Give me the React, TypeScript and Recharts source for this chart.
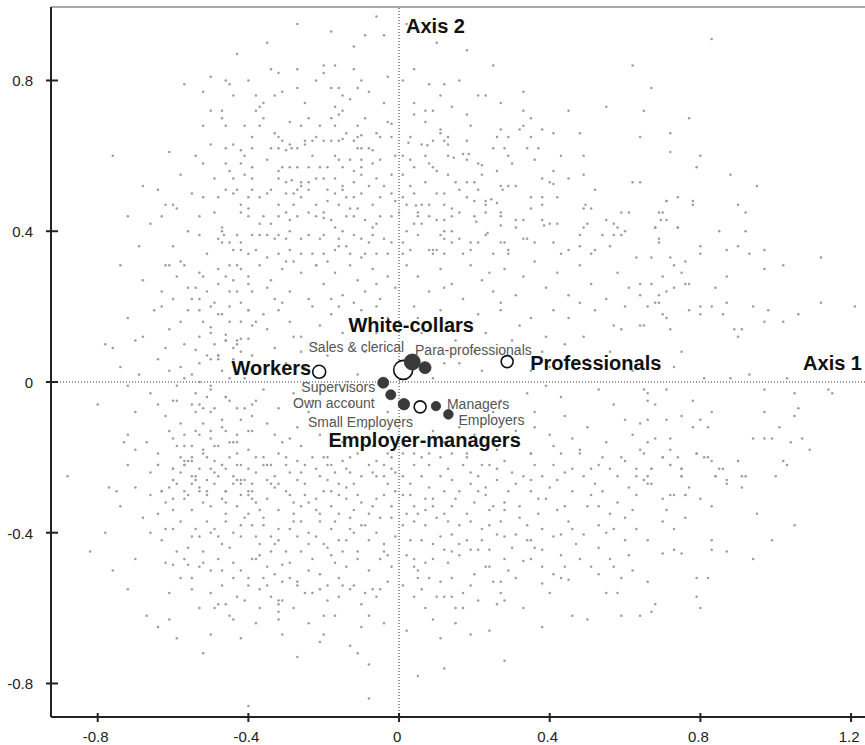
import React from "react";
import { ScatterChart, Scatter, XAxis, YAxis, ReferenceLine } from "recharts";

// individuals cloud
const cloudUpperLeft = [
  [-0.34,0.83],[-0.32,0.82],[-0.27,0.83],[-0.2,0.84],[-0.17,0.84],[-0.2,0.82],[-0.12,0.83],[-0.5,0.81],[-0.57,0.79],[-0.46,0.8],
  [-0.45,0.79],[-0.4,0.8],[-0.52,0.77],[-0.44,0.76],[-0.38,0.76],[-0.31,0.77],[-0.36,0.74],[-0.37,0.73],[-0.33,0.76],[-0.22,0.8],
  [-0.18,0.78],[-0.16,0.78],[-0.1,0.8],[-0.11,0.78],[-0.15,0.76],[-0.25,0.74],[-0.17,0.73],[-0.03,0.81],[-0.04,0.74],[-0.27,0.95],
  [-0.18,0.93],[-0.35,0.9],[-0.43,0.87],[-0.12,0.89],[-0.06,0.97],[-0.09,0.92],[-0.04,0.92],
  [-0.47,0.72],[-0.47,0.7],[-0.52,0.68],[-0.46,0.68],[-0.36,0.7],[-0.37,0.68],[-0.29,0.69],[-0.26,0.68],[-0.21,0.68],[-0.17,0.68],
  [-0.18,0.7],[-0.16,0.71],[-0.15,0.72],[-0.11,0.68],[-0.09,0.7],[-0.03,0.69],[-0.02,0.685],
  [-0.39,0.65],[-0.39,0.62],[-0.44,0.63],[-0.46,0.62],[-0.42,0.615],[-0.33,0.66],[-0.32,0.65],[-0.31,0.64],[-0.29,0.63],[-0.34,0.62],
  [-0.32,0.62],[-0.3,0.615],[-0.285,0.62],[-0.27,0.62],[-0.25,0.64],[-0.25,0.63],[-0.23,0.64],[-0.22,0.65],[-0.2,0.64],[-0.18,0.64],
  [-0.16,0.64],[-0.15,0.645],[-0.14,0.66],[-0.12,0.64],[-0.11,0.65],[-0.1,0.655],[-0.11,0.62],[-0.1,0.62],[-0.08,0.62],[-0.07,0.615],
  [-0.05,0.65],[-0.02,0.65],[-0.5,0.63],[-0.54,0.6],[-0.61,0.61],
  [-0.52,0.58],[-0.46,0.58],[-0.42,0.58],[-0.39,0.57],[-0.35,0.59],[-0.31,0.57],[-0.32,0.56],[-0.29,0.57],[-0.27,0.57],[-0.24,0.57],
  [-0.21,0.57],[-0.19,0.57],[-0.17,0.6],[-0.16,0.59],[-0.15,0.57],[-0.13,0.59],[-0.12,0.56],[-0.1,0.57],[-0.1,0.59],[-0.07,0.58],
  [-0.05,0.59],[-0.02,0.55],[-0.49,0.54],[-0.45,0.56],[-0.44,0.54],[-0.41,0.55],[-0.39,0.54],[-0.32,0.54],[-0.3,0.53],[-0.285,0.535],
  [-0.26,0.53],[-0.24,0.53],[-0.22,0.54],[-0.2,0.54],[-0.17,0.54],[-0.15,0.52],[-0.12,0.53],[-0.1,0.55],[-0.06,0.54],[-0.04,0.52],
  [-0.64,0.51],[-0.62,0.47],[-0.6,0.47],[-0.59,0.46],[-0.46,0.51],[-0.44,0.5],[-0.43,0.51],[-0.39,0.51],[-0.42,0.47],[-0.4,0.46],
  [-0.4,0.49],[-0.37,0.49],[-0.35,0.5],[-0.34,0.51],[-0.32,0.47],[-0.3,0.5],[-0.28,0.5],[-0.27,0.51],[-0.26,0.49],[-0.26,0.52],
  [-0.24,0.51],[-0.22,0.47],[-0.19,0.51],[-0.17,0.5],[-0.15,0.51],[-0.14,0.49],[-0.12,0.49],[-0.1,0.5],[-0.07,0.47],[-0.05,0.49],
  [-0.01,0.48],[-0.02,0.5],[-0.49,0.45],
  [-0.42,0.45],[-0.4,0.44],[-0.37,0.42],[-0.34,0.42],[-0.32,0.44],[-0.3,0.45],[-0.29,0.43],[-0.27,0.44],[-0.24,0.45],[-0.22,0.44],
  [-0.2,0.45],[-0.2,0.435],[-0.18,0.43],[-0.17,0.41],[-0.16,0.47],[-0.14,0.44],[-0.12,0.44],[-0.11,0.46],[-0.09,0.43],[-0.07,0.41],
  [-0.06,0.42],[-0.02,0.44],[0,0.45],[-0.53,0.39],[-0.47,0.4],[-0.47,0.41],[-0.465,0.39],
  [-0.48,0.38],[-0.47,0.37],[-0.45,0.37],[-0.43,0.39],[-0.42,0.37],[-0.39,0.39],[-0.37,0.39],[-0.35,0.39],[-0.33,0.38],[-0.32,0.39],
  [-0.3,0.38],[-0.29,0.4],[-0.26,0.38],[-0.24,0.39],[-0.21,0.38],[-0.2,0.39],[-0.16,0.38],[-0.15,0.4],[-0.12,0.39],[-0.1,0.38],
  [-0.08,0.37],[-0.07,0.39],[-0.04,0.38],[-0.02,0.37],[-0.44,0.35],[-0.42,0.35],[-0.4,0.34],[-0.38,0.35],[-0.35,0.33],[-0.32,0.34],
  [-0.29,0.35],[-0.26,0.34],[-0.23,0.34],[-0.2,0.34],[-0.17,0.35],[-0.16,0.36],[-0.13,0.34],[-0.1,0.33],[-0.09,0.34],[-0.06,0.34],
  [-0.03,0.34],[-0.76,0.6],[-0.68,0.52],[-0.72,0.44],[-0.66,0.42],[-0.69,0.36],
  [-0.58,0.55],[-0.55,0.5],[-0.53,0.44],[-0.56,0.4],[-0.6,0.36],[-0.51,0.34],[-0.48,0.49],[-0.41,0.6],[-0.36,0.44],[-0.28,0.47],
  [-0.23,0.6],[-0.19,0.48],[-0.13,0.46],[-0.08,0.52],[-0.05,0.44],[-0.14,0.36],[-0.22,0.31],[-0.3,0.32],[-0.45,0.31],[-0.5,0.72],
  [-0.41,0.68],[-0.27,0.78],[-0.08,0.77],[-0.06,0.66],[-0.01,0.6],[-0.63,0.44],[-0.58,0.32],[-0.52,0.49],[-0.38,0.72],[-0.24,0.7],
  [-0.13,0.75],
];

const cloudUpperRight = [
  [0.04,0.83],[0.25,0.84],[0.62,0.84],[0.01,0.8],[0.08,0.79],[0.12,0.79],[0.16,0.8],[0.11,0.76],[0.21,0.76],[0.23,0.76],
  [0.33,0.77],[0.04,0.74],[0.27,0.74],[0.14,0.73],[0.04,0.71],[0.07,0.72],[0.09,0.72],[0.18,0.71],[0.07,0.69],[0.33,0.72],
  [0.35,0.7],[0.45,0.72],[0.55,0.73],[0.65,0.72],[0.33,0.68],[0.32,0.67],[0.27,0.67],[0.11,0.67],[0.11,0.66],[0.13,0.65],
  [0.03,0.65],[0.26,0.65],[0.29,0.65],[0.35,0.65],[0.38,0.67],[0.41,0.66],[0.48,0.66],[0.64,0.65],[0.09,0.64],[0.12,0.64],
  [0.18,0.64],[0.025,0.635],[0.06,0.63],[0.075,0.628],[0.13,0.63],[0.28,0.62],[0.34,0.62],[0.37,0.62],[0.72,0.61],[0.01,0.6],
  [0.07,0.6],[0.13,0.6],[0.145,0.595],[0.17,0.605],[0.18,0.59],[0.185,0.605],[0.21,0.58],[0.22,0.575],[0.29,0.6],[0.3,0.58],
  [0.36,0.59],[0.43,0.6],[0.49,0.6],[0.03,0.59],[0.04,0.57],[0.09,0.57],[0.1,0.56],[0.26,0.56],[0.41,0.56],[0.49,0.55],
  [0.79,0.57],[0.01,0.55],[0.07,0.53],[0.15,0.53],[0.18,0.53],[0.2,0.53],[0.21,0.51],[0.27,0.52],[0.275,0.51],[0.29,0.52],
  [0.31,0.52],[0.38,0.54],[0.4,0.53],[0.41,0.525],[0.45,0.54],[0.52,0.51],[0.62,0.53],[0.64,0.53],[0.16,0.51],[0.01,0.49],
  [0.04,0.5],[0.1,0.5],[0.12,0.5],[0.18,0.49],[0.2,0.48],[0.23,0.48],[0.245,0.485],[0.26,0.475],[0.35,0.49],[0.38,0.49],
  [0.42,0.49],[0.74,0.49],[0.78,0.48],[0.02,0.47],[0.045,0.468],[0.06,0.47],[0.08,0.47],[0.12,0.47],[0.14,0.46],[0.14,0.44],
  [0.23,0.47],[0.23,0.45],[0.27,0.45],[0.35,0.46],[0.38,0.47],[0.49,0.46],[0.495,0.47],[0.51,0.46],[0.59,0.45],[0.61,0.45],
  [0.7,0.45],[0.71,0.48],[0.05,0.44],[0.08,0.44],[0.12,0.43],[0.2,0.44],[0.205,0.425],[0.27,0.44],[0.31,0.43],[0.33,0.43],
  [0.38,0.43],[0.385,0.415],[0.4,0.42],[0.42,0.42],[0.55,0.43],[0.695,0.43],[0.04,0.42],[0.06,0.42],[0.27,0.415],[0.31,0.41],
  [0.49,0.41],[0.5,0.42],[0.57,0.42],[0.58,0.41],[0.6,0.4],[0.68,0.41],[0.74,0.41],[0.02,0.4],[0.05,0.39],[0.11,0.39],
  [0.12,0.4],[0.14,0.4],[0.12,0.38],[0.23,0.39],[0.235,0.395],[0.33,0.38],[0.34,0.38],[0.36,0.37],[0.48,0.39],[0.54,0.39],
  [0.57,0.39],[0.59,0.39],[0.69,0.37],[0.01,0.37],[0.09,0.35],[0.1,0.35],[0.03,0.35],[0.14,0.37],[0.16,0.38],[0.19,0.37],
  [0.21,0.37],[0.27,0.37],[0.28,0.37],[0.29,0.35],[0.41,0.37],[0.45,0.35],[0.48,0.36],[0.52,0.35],[0.56,0.36],[0.01,0.34],
  [0.08,0.35],[0.09,0.34],[0.12,0.34],[0.17,0.34],[0.19,0.35],[0.25,0.34],[0.29,0.34],[0.43,0.34],[0.51,0.34],[0.63,0.33],
  [0.02,0.95],[0.1,0.9],[0.18,0.88],[0.72,0.66],[0.8,0.6],[0.88,0.55],[0.77,0.7],[0.67,0.78],[0.95,0.52],[0.83,0.91],
  [0.03,0.52],[0.05,0.45],[0.1,0.43],[0.16,0.45],[0.13,0.55],[0.22,0.55],[0.25,0.62],[0.19,0.68],[0.08,0.58],
];

const cloudMiddleLeft = [
  [-0.74,0.31],[-0.62,0.31],[-0.61,0.31],[-0.57,0.31],[-0.53,0.29],[-0.52,0.28],[-0.48,0.3],[-0.46,0.28],[-0.43,0.31],[-0.42,0.3],
  [-0.4,0.28],[-0.44,0.27],[-0.4,0.26],[-0.56,0.25],[-0.55,0.22],[-0.53,0.22],[-0.51,0.24],[-0.45,0.24],[-0.43,0.24],[-0.42,0.21],
  [-0.5,0.2],[-0.48,0.18],[-0.4,0.19],[-0.63,0.2],[-0.58,0.16],[-0.53,0.19],[-0.45,0.16],[-0.42,0.16],[-0.5,0.145],[-0.39,0.15],
  [-0.68,0.12],[-0.7,0.11],[-0.76,0.09],[-0.53,0.12],[-0.46,0.125],[-0.46,0.11],[-0.43,0.11],[-0.42,0.115],[-0.4,0.115],[-0.43,0.1],
  [-0.54,0.085],[-0.51,0.07],[-0.5,0.06],[-0.48,0.07],[-0.48,0.06],[-0.44,0.09],[-0.61,0.03],[-0.58,0.04],[-0.55,0.02],[-0.72,-0.01],
  [-0.53,0],[-0.59,-0.01],[-0.45,0.01],[-0.64,-0.06],[-0.6,-0.05],[-0.59,-0.05],[-0.54,-0.03],[-0.53,-0.06],[-0.52,-0.07],[-0.51,-0.04],
  [-0.54,-0.08],[-0.5,-0.08],[-0.49,-0.07],[-0.46,-0.04],[-0.45,-0.05],[-0.43,-0.07],[-0.41,-0.07],[-0.39,-0.06],[-0.42,-0.1],[-0.47,-0.12],
  [-0.52,-0.11],[-0.61,-0.13],[-0.72,-0.14],[-0.73,-0.16],[-0.7,-0.18],[-0.57,-0.14],[-0.54,-0.13],[-0.53,-0.14],[-0.5,-0.13],[-0.46,-0.13],
  [-0.43,-0.14],[-0.4,-0.13],[-0.6,-0.15],[-0.59,-0.17],[-0.57,-0.17],[-0.55,-0.17],[-0.5,-0.15],[-0.48,-0.17],[-0.45,-0.16],[-0.43,-0.16],
  [-0.4,-0.18],[-0.64,-0.19],[-0.64,-0.22],[-0.56,-0.21],[-0.55,-0.21],[-0.52,-0.19],[-0.5,-0.23],[-0.47,-0.22],[-0.45,-0.2],[-0.42,-0.22],
  [-0.6,-0.23],[-0.57,-0.22],[-0.88,-0.25],[-0.77,-0.28],[-0.75,-0.29],[-0.63,-0.29],[-0.6,-0.26],[-0.59,-0.27],[-0.57,-0.29],[-0.55,-0.25],
  [-0.55,-0.27],[-0.53,-0.29],[-0.51,-0.3],[-0.49,-0.27],[-0.46,-0.29],[-0.43,-0.26],[-0.42,-0.27],[-0.4,-0.29],[-0.39,-0.31],
  [-0.37,0.31],[-0.34,0.27],[-0.31,0.3],[-0.29,0.24],[-0.26,0.29],[-0.24,0.22],[-0.22,0.31],[-0.2,0.26],[-0.17,0.29],[-0.15,0.23],
  [-0.13,0.31],[-0.11,0.27],[-0.09,0.24],[-0.07,0.3],[-0.05,0.22],[-0.03,0.28],[-0.01,0.25],[-0.33,0.22],[-0.28,0.32],[-0.18,0.22],
  [-0.35,0.25],[-0.12,0.21],[-0.19,0.32],[-0.06,0.26],
  [-0.49,0.21],[-0.47,0.18],[-0.5,0.13],[-0.46,0.11],[-0.4,0.19],[-0.38,0.16],[-0.35,0.14],[-0.32,0.19],[-0.29,0.16],[-0.26,0.12],
  [-0.23,0.2],[-0.21,0.15],[-0.18,0.18],[-0.15,0.13],[-0.1,0.19],[-0.06,0.13],[-0.03,0.17],[-0.48,0.07],[-0.39,0.07],[-0.26,0.08],
  [-0.11,0.02],[-0.5,-0.01],[-0.46,-0.04],[-0.38,-0.05],[-0.32,-0.07],[-0.03,-0.08],[-0.47,-0.1],[-0.39,-0.13],[-0.33,-0.14],[-0.29,-0.15],
  [-0.26,-0.17],[-0.49,-0.17],[-0.43,-0.19],[-0.36,-0.2],[-0.19,-0.2],[-0.11,-0.19],[-0.03,-0.19],
  [-0.68,0.27],[-0.63,0.24],[-0.59,0.28],[-0.56,0.19],[-0.61,0.14],[-0.57,0.1],[-0.64,0.06],[-0.69,0.02],[-0.66,-0.03],[-0.62,-0.09],
  [-0.58,-0.11],[-0.55,-0.06],[-0.5,-0.02],[-0.47,0.03],[-0.44,0.06],[-0.41,0.01],[-0.37,0.04],[-0.36,-0.02],[-0.33,0.09],[-0.3,0.05],
  [-0.28,0.12],[-0.31,0.21],[-0.36,0.18],[-0.39,0.24],[-0.45,0.2],[-0.48,0.26],[-0.52,0.16],[-0.49,0.1],[-0.42,0.08],[-0.39,-0.09],
  [-0.35,-0.11],[-0.31,-0.16],[-0.27,-0.12],[-0.24,-0.08],[-0.21,-0.14],[-0.18,-0.1],[-0.15,-0.16],[-0.13,-0.06],[-0.09,-0.12],[-0.07,-0.17],
  [-0.44,-0.16],[-0.52,-0.18],[-0.58,-0.2],[-0.67,-0.16],[-0.7,-0.08],[-0.74,0.04],[-0.72,0.17],[-0.65,0.19],[-0.6,0.22],[-0.54,0.25],
  [-0.25,0.04],[-0.22,0.1],[-0.19,0.07],[-0.16,0.2],[-0.13,0.16],[-0.28,-0.03],[-0.23,-0.05],[-0.15,-0.02],[-0.09,0.08],[-0.06,0.2],
  [-0.8,-0.06],[-0.78,0.1],[-0.57,0.01],[-0.53,0.05],[-0.62,0.09],
];

const cloudMiddleRight = [
  [0.04,0.2],[0.06,0.13],[0.11,0.19],[0.15,0.11],[0.21,0.18],[0.23,0.13],[0.27,0.19],[0.3,0.11],[0.35,0.17],[0.39,0.12],
  [0.41,0.19],[0.09,0.01],[0.16,0.05],[0.22,0.03],[0.35,0.03],[0.4,0.04],[0.34,-0.03],[0.39,-0.01],[0.27,-0.05],[0.36,-0.08],
  [0.09,-0.13],[0.16,-0.12],[0.36,-0.12],[0.4,-0.14],[0.08,-0.19],[0.18,-0.2],[0.26,-0.18],[0.35,-0.19],[0.41,-0.17],
  [0.02,0.31],[0.05,0.28],[0.08,0.24],[0.11,0.3],[0.14,0.26],[0.17,0.22],[0.19,0.31],[0.22,0.27],[0.25,0.24],[0.28,0.3],
  [0.31,0.23],[0.33,0.28],[0.36,0.32],[0.39,0.25],[0.42,0.29],[0.45,0.23],[0.48,0.31],[0.51,0.26],[0.55,0.22],[0.58,0.29],
  [0.61,0.25],[0.45,0.17],[0.49,0.12],[0.52,0.19],[0.56,0.08],[0.59,0.14],[0.62,0.03],[0.47,0.05],[0.53,-0.02],[0.57,-0.06],
  [0.44,-0.09],[0.5,-0.12],[0.6,-0.1],[0.46,-0.15],[0.55,-0.16],[0.62,-0.14],[0.48,0.21],[0.6,0.2],
  [0.12,0.25],[0.27,0.21],[0.05,0.17],[0.18,0.15],[0.32,0.15],[0.44,0.1],[0.3,0.06],[0.2,0.08],[0.12,0.05],[0.25,-0.08],
  [0.2,-0.14],[0.31,-0.13],[0.43,-0.04],[0.5,0.06],[0.57,0.15],[0.12,-0.16],[0.3,-0.17],[0.48,-0.18],[0.38,0.08],[0.24,0.29],
  [0.71,0.48],[0.78,0.47],[0.69,0.45],[0.9,0.47],[0.92,0.45],[0.68,0.41],[0.71,0.43],[0.74,0.41],[0.85,0.4],[0.92,0.4],
  [0.69,0.38],[0.8,0.34],[0.8,0.36],[0.87,0.35],[0.9,0.36],[0.93,0.34],[0.97,0.35],[0.67,0.33],[0.72,0.33],[0.73,0.31],
  [0.76,0.32],[0.97,0.3],[1.02,0.31],[1.12,0.33],[0.75,0.29],[0.7,0.28],[0.87,0.28],[0.64,0.26],[0.67,0.26],[0.73,0.25],
  [0.76,0.26],[0.77,0.26],[0.84,0.25],[0.71,0.24],[0.64,0.23],[0.69,0.23],[0.66,0.2],[0.68,0.21],[0.69,0.21],[0.7,0.18],
  [0.77,0.19],[0.8,0.2],[0.8,0.18],[0.83,0.2],[0.86,0.18],[0.87,0.21],[0.94,0.2],[0.98,0.19],[0.97,0.16],[1.02,0.16],
  [1.06,0.18],[1.12,0.21],[1.21,0.2],[0.65,0.15],[0.64,0.15],[0.71,0.17],[0.72,0.14],[0.89,0.14],[0.91,0.14],[0.9,0.12],
  [0.75,0.08],[0.73,0.04],[0.93,0.02],[0.81,0.01],[0.88,0.01],[1.03,0.01],[0.97,-0.02],[1.05,-0.03],[1.14,-0.02],[1.15,-0.03],
  [0.65,-0.02],[0.66,-0.03],[0.71,-0.02],[0.66,-0.05],[0.68,-0.06],[0.78,-0.05],[1.06,-0.07],[0.75,-0.09],[0.8,-0.1],[0.83,-0.08],
  [0.97,-0.08],[1.05,-0.09],[0.64,-0.11],[0.66,-0.1],[0.71,-0.1],[0.78,-0.12],[0.82,-0.12],[1.01,-0.12],[0.68,-0.15],[0.66,-0.16],
  [0.72,-0.15],[0.72,-0.18],[0.64,-0.18],[0.79,-0.19],[0.81,-0.2],[0.83,-0.21],[0.94,-0.15],[0.97,-0.15],[0.99,-0.15],[1.04,-0.16],
  [1.07,-0.15],[1.09,-0.18],[0.7,-0.2],[0.74,-0.2],[0.72,-0.22],[0.75,-0.23],[0.67,-0.23],[0.66,-0.25],[0.67,-0.27],[0.66,-0.27],
  [0.75,-0.25],[0.77,-0.28],[0.84,-0.25],[0.86,-0.23],[0.87,-0.27],[0.9,-0.21],[0.92,-0.25],[0.91,-0.28],[1,-0.25],[1.02,-0.21],
  [1.03,-0.22],[0.72,-0.3],[0.76,-0.3],
];

const cloudLowerLeft = [
  [-0.64,-0.22],[-0.57,-0.21],[-0.57,-0.22],[-0.55,-0.2],[-0.51,-0.2],[-0.49,-0.24],[-0.47,-0.22],[-0.43,-0.22],[-0.4,-0.23],[-0.38,-0.2],
  [-0.36,-0.22],[-0.35,-0.22],[-0.34,-0.22],[-0.32,-0.19],[-0.3,-0.2],[-0.27,-0.21],[-0.25,-0.22],[-0.23,-0.2],[-0.2,-0.2],[-0.18,-0.22],
  [-0.15,-0.21],[-0.13,-0.2],[-0.08,-0.22],[-0.04,-0.22],[-0.02,-0.2],[-0.6,-0.23],[-0.6,-0.26],[-0.54,-0.25],[-0.54,-0.26],[-0.51,-0.26],
  [-0.48,-0.25],[-0.46,-0.23],[-0.44,-0.27],[-0.42,-0.26],[-0.41,-0.26],[-0.39,-0.27],[-0.35,-0.26],[-0.34,-0.27],[-0.32,-0.27],[-0.29,-0.24],
  [-0.27,-0.26],[-0.25,-0.27],[-0.21,-0.25],[-0.19,-0.26],[-0.17,-0.24],[-0.16,-0.27],[-0.13,-0.24],[-0.12,-0.27],[-0.07,-0.24],[-0.06,-0.25],
  [-0.04,-0.25],[-0.02,-0.23],[-0.03,-0.27],
  [-0.63,-0.29],[-0.57,-0.31],[-0.62,-0.32],[-0.6,-0.31],[-0.53,-0.28],[-0.51,-0.29],[-0.52,-0.32],[-0.46,-0.29],[-0.46,-0.32],[-0.42,-0.3],
  [-0.4,-0.3],[-0.38,-0.32],[-0.37,-0.34],[-0.32,-0.34],[-0.3,-0.29],[-0.29,-0.3],[-0.28,-0.32],[-0.26,-0.33],[-0.24,-0.32],[-0.22,-0.31],
  [-0.2,-0.29],[-0.18,-0.29],[-0.16,-0.3],[-0.14,-0.31],[-0.12,-0.34],[-0.13,-0.36],[-0.1,-0.32],[-0.07,-0.33],[-0.04,-0.3],[-0.01,-0.29],
  [-0.55,-0.34],[-0.6,-0.34],[-0.46,-0.35],[-0.4,-0.35],[-0.36,-0.36],[-0.21,-0.35],[-0.16,-0.35],[-0.05,-0.36],
  [-0.63,-0.42],[-0.62,-0.39],[-0.6,-0.39],[-0.53,-0.41],[-0.54,-0.39],[-0.56,-0.44],[-0.59,-0.45],[-0.5,-0.4],[-0.49,-0.39],[-0.46,-0.37],
  [-0.47,-0.43],[-0.44,-0.4],[-0.42,-0.38],[-0.42,-0.41],[-0.39,-0.38],[-0.37,-0.43],[-0.34,-0.41],[-0.34,-0.45],[-0.32,-0.39],[-0.32,-0.42],
  [-0.3,-0.45],[-0.28,-0.37],[-0.27,-0.41],[-0.24,-0.43],[-0.24,-0.4],[-0.21,-0.37],[-0.2,-0.43],[-0.18,-0.39],[-0.16,-0.42],[-0.15,-0.45],
  [-0.13,-0.39],[-0.1,-0.38],[-0.11,-0.45],[-0.08,-0.42],[-0.04,-0.43],[-0.04,-0.45],[-0.02,-0.36],
  [-0.6,-0.485],[-0.56,-0.485],[-0.52,-0.48],[-0.53,-0.49],[-0.5,-0.5],[-0.47,-0.5],[-0.44,-0.48],[-0.44,-0.52],[-0.39,-0.47],[-0.38,-0.47],
  [-0.4,-0.52],[-0.36,-0.52],[-0.33,-0.51],[-0.31,-0.485],[-0.31,-0.53],[-0.27,-0.53],[-0.24,-0.5],[-0.21,-0.55],[-0.19,-0.54],[-0.17,-0.48],
  [-0.16,-0.52],[-0.12,-0.54],[-0.09,-0.56],[-0.07,-0.55],[-0.05,-0.47],[-0.05,-0.55],[-0.02,-0.49],[-0.58,-0.52],[-0.61,-0.56],[-0.55,-0.55],
  [-0.5,-0.56],[-0.49,-0.6],[-0.46,-0.59],[-0.41,-0.58],[-0.4,-0.54],[-0.35,-0.54],[-0.32,-0.58],[-0.31,-0.58],[-0.27,-0.54],[-0.25,-0.56],
  [-0.16,-0.57],[-0.13,-0.55],
  [-0.64,-0.65],[-0.61,-0.63],[-0.59,-0.68],[-0.5,-0.67],[-0.52,-0.72],[-0.44,-0.63],[-0.42,-0.68],[-0.32,-0.61],[-0.32,-0.63],[-0.31,-0.67],
  [-0.27,-0.73],[-0.2,-0.62],[-0.2,-0.67],[-0.21,-0.69],[-0.13,-0.7],[-0.11,-0.72],[-0.1,-0.65],[-0.04,-0.64],[-0.08,-0.75],[-0.48,-0.59],
  [-0.37,-0.6],[-0.67,-0.62],[-0.4,-0.86],[-0.32,-0.59],[-0.82,-0.45],[-0.78,-0.4],[-0.76,-0.5],
  [-0.7,-0.47],[-0.72,-0.55],[-0.68,-0.36],[-0.74,-0.33],[-0.66,-0.3],[-0.08,-0.84],
  [-0.58,-0.24],[-0.53,-0.23],[-0.49,-0.21],[-0.44,-0.25],[-0.38,-0.24],[-0.33,-0.25],[-0.3,-0.22],[-0.26,-0.24],[-0.22,-0.23],[-0.19,-0.22],
  [-0.14,-0.23],[-0.1,-0.25],[-0.06,-0.21],[-0.01,-0.24],[-0.61,-0.28],[-0.56,-0.3],[-0.5,-0.33],[-0.47,-0.31],[-0.43,-0.33],[-0.39,-0.29],
  [-0.35,-0.31],[-0.33,-0.28],[-0.28,-0.35],[-0.25,-0.3],[-0.22,-0.34],[-0.18,-0.33],[-0.14,-0.28],[-0.11,-0.3],[-0.08,-0.35],[-0.06,-0.31],
  [-0.02,-0.33],[-0.58,-0.37],[-0.55,-0.41],[-0.51,-0.37],[-0.48,-0.41],[-0.45,-0.44],[-0.41,-0.36],[-0.38,-0.41],[-0.36,-0.38],[-0.33,-0.43],
  [-0.29,-0.39],[-0.26,-0.37],[-0.22,-0.41],[-0.19,-0.44],[-0.17,-0.37],[-0.14,-0.42],[-0.12,-0.4],[-0.09,-0.38],[-0.06,-0.4],[-0.01,-0.41],
  [-0.57,-0.47],[-0.52,-0.45],[-0.48,-0.47],[-0.42,-0.5],[-0.37,-0.46],[-0.35,-0.49],[-0.29,-0.48],[-0.26,-0.45],[-0.23,-0.47],[-0.21,-0.51],
  [-0.18,-0.46],[-0.14,-0.49],[-0.11,-0.47],[-0.08,-0.5],[-0.03,-0.46],[-0.55,-0.52],[-0.47,-0.54],[-0.43,-0.57],[-0.37,-0.55],[-0.34,-0.57],
  [-0.29,-0.52],[-0.23,-0.56],[-0.19,-0.58],[-0.15,-0.54],[-0.1,-0.59],[-0.06,-0.57],[-0.03,-0.53],[-0.53,-0.6],[-0.45,-0.62],[-0.38,-0.64],
  [-0.28,-0.6],[-0.24,-0.64],[-0.17,-0.62],[-0.08,-0.62],[-0.66,-0.4],[-0.64,-0.35],[-0.62,-0.48],[-0.7,-0.28],[-0.72,-0.22],[-0.66,-0.24],
];

const cloudLowerRight = [
  [0.01,-0.19],[0.04,-0.19],[0.06,-0.2],[0.04,-0.22],[0.08,-0.22],[0.11,-0.2],[0.14,-0.19],[0.18,-0.19],[0.17,-0.22],[0.22,-0.22],
  [0.24,-0.22],[0.26,-0.23],[0.28,-0.21],[0.3,-0.24],[0.33,-0.25],[0.35,-0.19],[0.36,-0.22],[0.38,-0.25],[0.42,-0.26],[0.43,-0.19],
  [0.46,-0.23],[0.48,-0.19],[0.49,-0.25],[0.51,-0.23],[0.53,-0.22],[0.54,-0.2],[0.56,-0.23],[0.59,-0.2],[0.6,-0.21],[0.63,-0.23],
  [0.63,-0.25],[0.65,-0.26],[0.67,-0.23],[0.65,-0.19],[0.7,-0.2],[0.72,-0.22],[0.75,-0.23],[0.75,-0.25],[0.79,-0.19],[0.82,-0.2],
  [0.84,-0.25],[0.85,-0.23],[0.87,-0.26],[0.9,-0.21],[0.91,-0.25],[0.01,-0.25],[0.06,-0.25],[0.11,-0.25],[0.14,-0.26],[0.21,-0.25],
  [0.26,-0.26],[0.41,-0.22],
  [0.01,-0.3],[0.03,-0.3],[0.07,-0.31],[0.09,-0.31],[0.12,-0.29],[0.15,-0.31],[0.16,-0.29],[0.19,-0.27],[0.21,-0.29],[0.23,-0.3],
  [0.25,-0.33],[0.28,-0.32],[0.29,-0.29],[0.32,-0.33],[0.35,-0.29],[0.37,-0.31],[0.39,-0.31],[0.4,-0.28],[0.42,-0.34],[0.44,-0.33],
  [0.46,-0.29],[0.5,-0.33],[0.51,-0.3],[0.54,-0.29],[0.56,-0.35],[0.58,-0.32],[0.61,-0.28],[0.62,-0.34],[0.63,-0.3],[0.7,-0.31],
  [0.71,-0.34],[0.73,-0.3],[0.76,-0.3],[0.76,-0.36],[0.8,-0.31],[0.83,-0.33],[0.04,-0.33],[0.05,-0.35],[0.09,-0.33],[0.12,-0.35],
  [0.18,-0.35],[0.24,-0.34],[0.28,-0.34],
  [0.01,-0.38],[0.04,-0.37],[0.07,-0.38],[0.1,-0.36],[0.13,-0.37],[0.16,-0.38],[0.19,-0.37],[0.22,-0.39],[0.24,-0.38],[0.26,-0.405],
  [0.28,-0.41],[0.31,-0.405],[0.34,-0.38],[0.34,-0.42],[0.36,-0.44],[0.38,-0.39],[0.41,-0.41],[0.43,-0.405],[0.46,-0.39],[0.49,-0.405],
  [0.53,-0.38],[0.55,-0.4],[0.57,-0.39],[0.6,-0.42],[0.63,-0.39],[0.66,-0.42],[0.7,-0.37],[0.73,-0.39],[0.83,-0.42],[0.06,-0.42],
  [0.09,-0.43],[0.14,-0.405],[0.18,-0.42],[0.21,-0.445],[0.24,-0.445],[0.38,-0.445],[0.43,-0.46],[0.53,-0.44],[0.7,-0.455],[0.73,-0.445],
  [0.75,-0.455],[0.83,-0.445],[0.87,-0.45],
  [0.02,-0.46],[0.04,-0.47],[0.07,-0.48],[0.09,-0.47],[0.12,-0.445],[0.14,-0.45],[0.16,-0.46],[0.19,-0.445],[0.23,-0.49],[0.24,-0.49],
  [0.28,-0.47],[0.29,-0.5],[0.33,-0.475],[0.35,-0.47],[0.38,-0.49],[0.41,-0.51],[0.43,-0.52],[0.45,-0.525],[0.48,-0.47],[0.51,-0.49],
  [0.53,-0.51],[0.56,-0.47],[0.57,-0.49],[0.61,-0.46],[0.62,-0.5],[0.59,-0.52],[0.66,-0.53],[0.79,-0.52],[0.82,-0.52],[0.04,-0.49],
  [0.05,-0.52],[0.08,-0.52],[0.11,-0.53],[0.14,-0.52],[0.19,-0.54],[0.25,-0.53],[0.27,-0.53],[0.01,-0.54],[0.04,-0.57],[0.06,-0.55],
  [0.1,-0.57],[0.12,-0.57],[0.14,-0.57],[0.17,-0.56],[0.27,-0.56],[0.38,-0.535],[0.4,-0.56],[0.55,-0.56],[0.58,-0.56],[0.79,-0.57],
  [0.15,-0.6],[0.17,-0.6],[0.26,-0.59],[0.28,-0.58],[0.09,-0.63],[0.46,-0.62],[0.5,-0.63],[0.59,-0.62],[0.64,-0.62],[0.67,-0.61],
  [0.68,-0.59],[0.8,-0.6],[0.11,-0.68],[0.19,-0.67],[0.24,-0.66],
  [0.95,-0.35],[0.99,-0.42],[1.05,-0.38],[0.94,-0.47],[0.05,-0.78],[0.12,-0.76],[0.28,-0.74],
  [0.03,-0.27],[0.08,-0.28],[0.13,-0.23],[0.19,-0.24],[0.23,-0.28],[0.31,-0.27],[0.35,-0.26],[0.44,-0.24],[0.52,-0.27],[0.58,-0.25],
  [0.02,-0.35],[0.07,-0.34],[0.14,-0.33],[0.2,-0.32],[0.27,-0.37],[0.32,-0.36],[0.37,-0.35],[0.45,-0.37],[0.53,-0.33],[0.6,-0.36],
  [0.03,-0.42],[0.11,-0.41],[0.16,-0.43],[0.22,-0.42],[0.3,-0.44],[0.35,-0.42],[0.47,-0.43],[0.05,-0.5],[0.13,-0.48],[0.2,-0.51],
  [0.31,-0.52],[0.44,-0.49],[0.07,-0.6],[0.21,-0.58],[0.33,-0.6],[0.02,-0.66],[0.15,-0.64],[0.38,-0.65],
];

// supplementary groups (open circles) and active categories (filled)
const groupNames = ["Workers", "White-collars", "Professionals", "Employer-managers"];
const groupX = [-0.212, 0.011, 0.287, 0.056];
const groupY = [0.027, 0.032, 0.054, -0.066];

const categoryNames = ["Sales & clerical", "Para-professionals", "Supervisors", "Own account", "Small Employers", "Managers", "Employers"];
const categoryX = [0.035, 0.069, -0.042, -0.022, 0.013, 0.098, 0.131];
const categoryY = [0.053, 0.038, -0.002, -0.034, -0.059, -0.064, -0.086];

const xTicks = [-0.8, -0.4, 0, 0.4, 0.8, 1.2];
const yTicks = [-0.8, -0.4, 0, 0.4, 0.8];

const X_DOMAIN: [number, number] = [-0.924, 1.237];
const Y_DOMAIN: [number, number] = [-0.889, 0.995];

const FONT = "'Liberation Sans', Arial, Helvetica, sans-serif";

// marker radius and label placement (px offsets from the marker)
const LABEL_STYLE: Record<string, { r: number; dx: number; dy: number; anchor: "start" | "middle" | "end" }> = {
  Workers: { r: 6.5, dx: -8, dy: 3.5, anchor: "end" },
  "White-collars": { r: 9.5, dx: 8, dy: -38, anchor: "middle" },
  Professionals: { r: 6, dx: 23, dy: 8, anchor: "start" },
  "Employer-managers": { r: 6, dx: 4.5, dy: 40, anchor: "middle" },
  "Sales & clerical": { r: 8, dx: -8, dy: -10, anchor: "end" },
  "Para-professionals": { r: 6, dx: -10, dy: -12.5, anchor: "start" },
  Supervisors: { r: 5.5, dx: -8, dy: 9.5, anchor: "end" },
  "Own account": { r: 5, dx: -16, dy: 13, anchor: "end" },
  "Small Employers": { r: 5.7, dx: 9, dy: 22.5, anchor: "end" },
  Managers: { r: 4.7, dx: 11, dy: 3, anchor: "start" },
  Employers: { r: 4.8, dx: 10, dy: 11, anchor: "start" },
};

const toPoints = (rows: number[][]) => rows.map(([x, y]) => ({ x, y }));

const cloud = toPoints([
  ...cloudUpperLeft,
  ...cloudUpperRight,
  ...cloudMiddleLeft,
  ...cloudMiddleRight,
  ...cloudLowerLeft,
  ...cloudLowerRight,
]);

const groups = groupNames.map((name, i) => ({ name, x: groupX[i], y: groupY[i] }));
const categories = categoryNames.map((name, i) => ({ name, x: categoryX[i], y: categoryY[i] }));

function CloudDot(props: any) {
  const { cx, cy } = props;
  if (cx == null || cy == null) return null;
  return <circle cx={cx} cy={cy} r={1.25} fill="#9c9c9c" />;
}

function GroupMarker(props: any) {
  const { cx, cy, payload } = props;
  const s = LABEL_STYLE[payload.name];
  return (
    <g>
      <circle cx={cx} cy={cy} r={s.r} fill="#ffffff" stroke="#111" strokeWidth={1.6} />
      <text
        x={cx + s.dx}
        y={cy + s.dy}
        textAnchor={s.anchor}
        fontFamily={FONT}
        fontSize={20}
        fontWeight={700}
        fill="#111"
      >
        {payload.name}
      </text>
    </g>
  );
}

function CategoryMarker(props: any) {
  const { cx, cy, payload } = props;
  const s = LABEL_STYLE[payload.name];
  return (
    <g>
      <circle cx={cx} cy={cy} r={s.r} fill="#3a3a3a" stroke="#333" strokeWidth={0.8} />
      <text x={cx + s.dx} y={cy + s.dy} textAnchor={s.anchor} fontFamily={FONT} fontSize={14} fill="#555">
        {payload.name}
      </text>
    </g>
  );
}

function YTick(props: any) {
  const { x, y, payload } = props;
  return (
    <g>
      <line x1={x - 5} x2={x + 7} y1={y} y2={y} stroke="#222" strokeWidth={2} />
      <text x={x - 18} y={y + 6} textAnchor="end" fontFamily={FONT} fontSize={15} fill="#222">
        {String(payload.value)}
      </text>
    </g>
  );
}

function XTick(props: any) {
  const { x, y, payload } = props;
  return (
    <g>
      <line x1={x} x2={x} y1={y - 4} y2={y + 5} stroke="#222" strokeWidth={2} />
      <text x={x - 2} y={y + 25} textAnchor="middle" fontFamily={FONT} fontSize={15} fill="#222">
        {String(payload.value)}
      </text>
    </g>
  );
}

function AxisOneTitle(props: any) {
  const vb = props.viewBox || {};
  return (
    <text x={vb.x + vb.width - 3} y={vb.y - 12} textAnchor="end" fontFamily={FONT} fontSize={20} fontWeight={700} fill="#111">
      Axis 1
    </text>
  );
}

function AxisTwoTitle(props: any) {
  const vb = props.viewBox || {};
  return (
    <text x={vb.x + 7} y={vb.y + 26} textAnchor="start" fontFamily={FONT} fontSize={20} fontWeight={700} fill="#111">
      Axis 2
    </text>
  );
}

export default function App() {
  return (
    <div style={{ position: "absolute", left: 0, top: 0, width: 865, height: 745, background: "#fff" }}>
      <ScatterChart width={865} height={745} margin={{ top: 7, right: 0, bottom: 0, left: 0 }}>
        <XAxis
          type="number"
          dataKey="x"
          domain={X_DOMAIN}
          allowDataOverflow
          ticks={xTicks}
          height={28}
          tickSize={0}
          tickMargin={0}
          tickLine={false}
          tick={<XTick />}
          axisLine={{ stroke: "#222", strokeWidth: 2 }}
        />
        <YAxis
          type="number"
          dataKey="y"
          domain={Y_DOMAIN}
          allowDataOverflow
          ticks={yTicks}
          width={51}
          tickSize={0}
          tickMargin={0}
          tickLine={false}
          tick={<YTick />}
          axisLine={{ stroke: "#222", strokeWidth: 2 }}
        />
        {/* top edge of the frame */}
        <ReferenceLine y={Y_DOMAIN[1]} stroke="#555" strokeWidth={1.2} />
        <ReferenceLine y={0} stroke="#333" strokeDasharray="1 2" label={AxisOneTitle} />
        <ReferenceLine x={0} stroke="#333" strokeDasharray="1 2" label={AxisTwoTitle} />
        <Scatter data={cloud} shape={CloudDot} isAnimationActive={false} />
        <Scatter data={groups} shape={GroupMarker} isAnimationActive={false} />
        <Scatter data={categories} shape={CategoryMarker} isAnimationActive={false} />
      </ScatterChart>
    </div>
  );
}
